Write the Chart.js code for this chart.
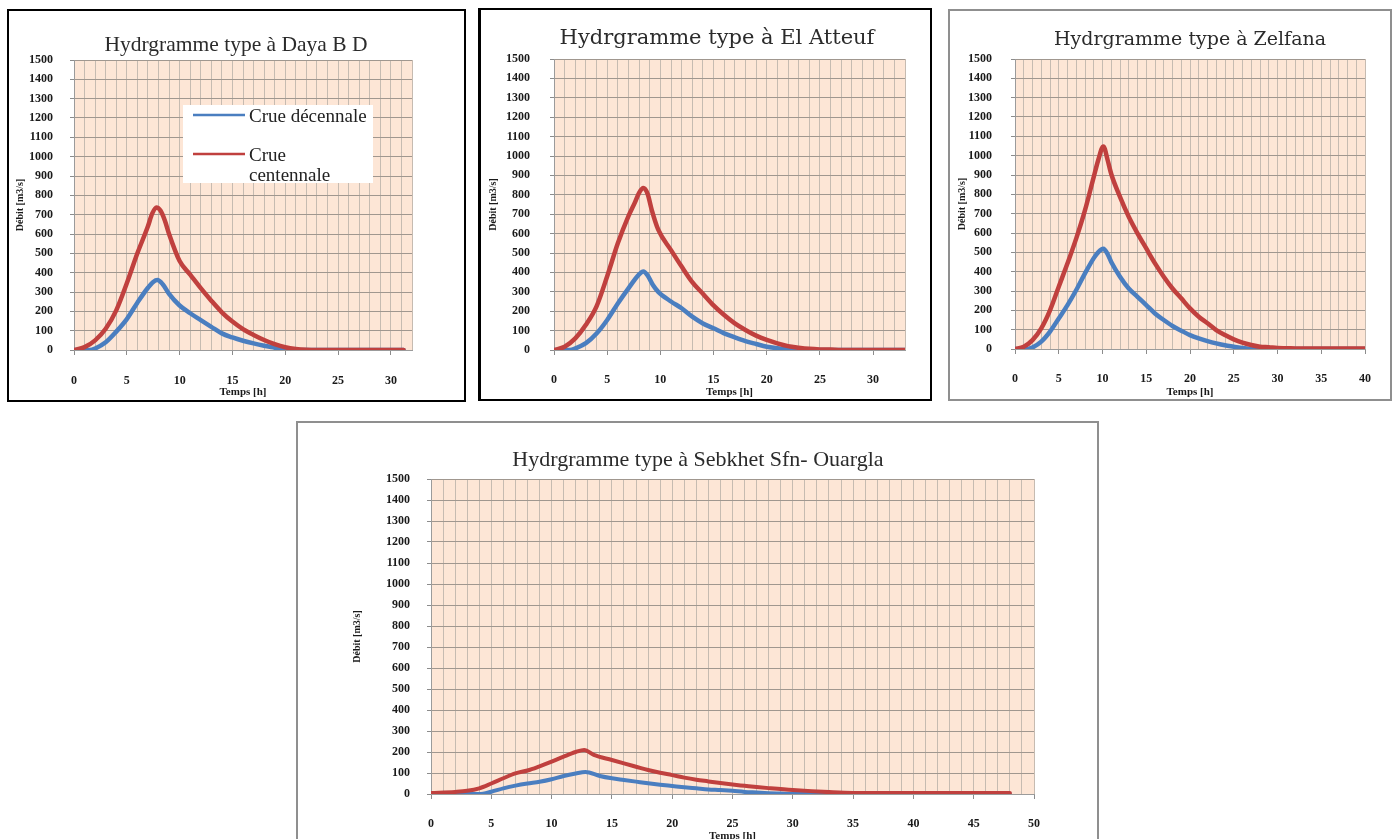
<!DOCTYPE html>
<html lang="fr">
<head>
  <meta charset="UTF-8" />
  <title>Hydrogrammes types</title>
  <script src="https://cdn.jsdelivr.net/npm/chart.js"></script>
  <style>
    body {
      margin: 0;
      width: 1397px;
      height: 839px;
      overflow: hidden;
      position: relative;
      background: #fff;
    }

    .panel {
      position: absolute;
      background: #fff;
    }

    .panel canvas {
      display: block;
    }

    #p1 { left: 7px; top: 9px; width: 455px; height: 389px; border: 2px solid #000; }
    #p2 { left: 478px; top: 8px; width: 449px; height: 389px; border: 2px solid #000; border-left-width: 3px; }
    #p3 { left: 948px; top: 9px; width: 440px; height: 388px; border: 2px solid #8f8f8f; }
    #p4 { left: 296px; top: 421px; width: 799px; height: 420px; border: 2px solid #8f8f8f; }
  </style>
</head>
<body>
  <div class="panel" id="p1"><canvas id="dayaChart" width="455" height="389"></canvas></div>
  <div class="panel" id="p2"><canvas id="atteufChart" width="449" height="389"></canvas></div>
  <div class="panel" id="p3"><canvas id="zelfanaChart" width="440" height="388"></canvas></div>
  <div class="panel" id="p4"><canvas id="sebkhetChart" width="799" height="420"></canvas></div>

  <script>
    // Temps [h] et débits [m3/s] - Daya B D
    const dayaTDec = [0, 1, 1.5, 2, 3, 4, 5, 6, 7, 7.5, 7.9, 8.4, 9, 10, 11, 12, 13, 14, 15, 16, 17, 18, 19, 20, 21, 31.2];
    const dayaQDec = [0, 0, 0, 8, 40, 95, 160, 245, 322, 352, 362, 340, 290, 230, 190, 155, 120, 86, 65, 48, 34, 22, 12, 2, 0, 0];
    const dayaTCent = [0, 1, 2, 3, 4, 5, 6, 7, 7.4, 7.8, 8.2, 8.6, 9, 10, 11, 12, 13, 14, 15, 16, 17, 18, 19, 20, 21, 22, 23, 31.2];
    const dayaQCent = [0, 15, 50, 110, 205, 345, 500, 640, 705, 737, 720, 670, 600, 460, 390, 320, 255, 195, 147, 108, 78, 52, 30, 14, 5, 1, 0, 0];

    // El Atteuf
    const atteufTDec = [0, 1, 1.5, 2, 3, 4, 5, 6, 7, 8, 8.4, 8.8, 9.3, 9.8, 11, 12, 13, 14, 15, 16, 17, 18, 19, 20, 21, 22, 23, 33];
    const atteufQDec = [0, 0, 0, 8, 35, 85, 155, 240, 318, 390, 405, 385, 335, 300, 250, 215, 172, 137, 112, 86, 65, 46, 31, 17, 9, 3, 0, 0];
    const atteufTCent = [0, 1, 2, 3, 4, 5, 6, 7, 7.6, 8, 8.4, 8.8, 9.2, 9.8, 11, 12, 13, 14, 15, 16, 17, 18, 19, 20, 21, 22, 23, 24, 25, 26, 27, 33];
    const atteufQCent = [0, 17, 60, 130, 225, 380, 550, 690, 760, 810, 835, 805, 720, 620, 515, 430, 350, 290, 230, 180, 137, 103, 74, 52, 34, 20, 12, 6, 3, 2, 0, 0];

    // Zelfana
    const zelfanaTDec = [0, 1, 1.5, 2, 3, 4, 5, 6, 7, 8, 9, 9.5, 10.1, 10.6, 11, 12, 13, 14, 15, 16, 17, 18, 19, 20, 21, 22, 23, 24, 25, 26, 27, 40];
    const zelfanaQDec = [0, 0, 0, 8, 38, 90, 158, 227, 305, 391, 470, 500, 518, 490, 450, 374, 313, 270, 227, 184, 150, 119, 95, 72, 55, 41, 29, 19, 12, 5, 0, 0];
    const zelfanaTCent = [0, 1, 2, 3, 4, 5, 6, 7, 8, 9, 9.5, 10.1, 10.6, 11, 12, 13, 14, 15, 16, 17, 18, 19, 20, 21, 22, 23, 24, 25, 26, 27, 28, 29, 30, 32, 35, 40];
    const zelfanaQCent = [0, 12, 46, 107, 200, 322, 443, 572, 718, 890, 975, 1048, 975, 905, 787, 684, 598, 520, 443, 374, 313, 262, 210, 167, 133, 98, 72, 50, 33, 21, 12, 9, 5, 3, 2, 3];

    // Sebkhet Sfn - Ouargla
    const sebkhetTDec = [0, 4, 5, 6, 7, 8, 9, 10, 11, 12, 12.8, 14, 15, 16, 17, 18, 19, 20, 21, 22, 23, 24, 25, 26, 27, 28, 29, 30, 48];
    const sebkhetQDec = [0, 0, 11, 27, 40, 50, 58, 70, 86, 98, 105, 86, 75, 67, 59, 51, 44, 38, 32, 27, 22, 19, 15, 10, 7, 4, 2, 0, 0];
    const sebkhetTCent = [0, 2, 3, 4, 5, 6, 7, 8, 9, 10, 11, 12, 12.7, 13.5, 15, 16, 17, 18, 19, 20, 21, 22, 23, 24, 25, 26, 27, 28, 30, 33, 35, 40, 48];
    const sebkhetQCent = [5, 10, 15, 27, 50, 75, 98, 112, 132, 154, 178, 200, 210, 186, 162, 146, 130, 114, 101, 90, 78, 68, 60, 52, 45, 39, 33, 28, 19, 9, 5, 5, 5];

    const seriesLabels = ['Crue décennale', 'Crue centennale'];
    const BLUE = '#4a7ec0';
    const RED = '#c0403e';
    const SERIF = '"Liberation Serif", "Times New Roman", serif';
    const WIDE_SERIF = '"DejaVu Serif", Cambria, serif';

    function toPoints(t, q) {
      return t.map((x, i) => ({ x: x, y: q[i] }));
    }

    // fond saumon de la zone de tracé
    const plotBackground = {
      id: 'plotBackground',
      beforeDraw(chart) {
        const { ctx, chartArea } = chart;
        ctx.save();
        ctx.fillStyle = '#fde6d6';
        ctx.fillRect(chartArea.left, chartArea.top, chartArea.width, chartArea.height);
        ctx.restore();
      }
    };

    // légende encadrée dans la zone de tracé (graphique Daya B D)
    const boxLegend = {
      id: 'boxLegend',
      afterDatasetsDraw(chart, args, opts) {
        if (!opts || !opts.box) return;
        const ctx = chart.ctx;
        const [bx, by, bw, bh] = opts.box;
        ctx.save();
        ctx.fillStyle = '#ffffff';
        ctx.fillRect(bx, by, bw, bh);
        ctx.font = opts.fontSize + 'px ' + SERIF;
        ctx.fillStyle = '#222';
        ctx.textBaseline = 'alphabetic';
        chart.data.datasets.forEach((ds, i) => {
          const item = opts.items[i];
          ctx.strokeStyle = ds.borderColor;
          ctx.lineWidth = 2.5;
          ctx.beginPath();
          ctx.moveTo(item.x0, item.y);
          ctx.lineTo(item.x1, item.y);
          ctx.stroke();
          item.lines.forEach((txt, k) => {
            ctx.fillText(txt, item.x1 + 4, item.base + k * opts.lineGap);
          });
        });
        ctx.restore();
      }
    };

    function createHydro(canvasId, p) {
      const canvas = document.getElementById(canvasId);
      const W = canvas.width;
      const H = canvas.height;
      const a = p.area;
      const fullTitle = p.titleFullSize !== false;
      // la boîte du titre va de padL à W - padR : on la décale pour placer le titre
      const padL = fullTitle ? Math.max(0, 2 * p.titleX - W) : 0;
      const padR = fullTitle ? Math.max(0, W - 2 * p.titleX) : 0;
      const tickFont = { family: SERIF, size: 12, weight: 'bold', lineHeight: 1 };
      const axisFont = { family: SERIF, size: 11, weight: 'bold', lineHeight: 1 };

      const series = [
        { t: p.tDec, q: p.qDec, color: BLUE, order: 1 },
        { t: p.tCent, q: p.qCent, color: RED, order: 0 }
      ];

      return new Chart(canvas, {
        type: 'scatter',
        data: {
          datasets: series.map((s, i) => ({
            label: seriesLabels[i],
            data: toPoints(s.t, s.q),
            borderColor: s.color,
            backgroundColor: s.color,
            order: s.order,
            showLine: true,
            pointRadius: 0,
            borderWidth: p.lineWidth,
            cubicInterpolationMode: 'monotone',
            borderCapStyle: 'round',
            borderJoinStyle: 'round',
            fill: false
          }))
        },
        options: {
          responsive: false,
          animation: false,
          events: [],
          layout: { padding: { left: padL, right: padR, top: 0, bottom: 0 } },
          plugins: {
            legend: { display: false },
            tooltip: { enabled: false },
            title: {
              display: true,
              fullSize: fullTitle,
              text: p.title,
              color: '#2b2b2b',
              font: { family: p.titleFont || SERIF, size: p.titleSize, weight: 'normal', lineHeight: 1 },
              padding: { top: p.titleY - p.titleSize / 2, bottom: a.t - p.titleY - p.titleSize / 2 }
            },
            boxLegend: p.legend || false
          },
          scales: {
            x: {
              type: 'linear',
              min: 0,
              max: p.xMax,
              afterFit: s => { s.height = H - a.b; },
              ticks: {
                stepSize: 1,
                autoSkip: false,
                maxRotation: 0,
                padding: p.xPad,
                color: '#1a1a1a',
                font: tickFont,
                callback: v => (v % 5 === 0 ? String(v) : '')
              },
              grid: {
                color: '#c6bbb1',
                tickLength: 5,
                tickColor: c => (c.tick && c.tick.value % 5 === 0 ? '#8c8c8c' : 'rgba(0,0,0,0)')
              },
              border: { color: '#9b9b9b' },
              title: {
                display: true,
                text: 'Temps [h]',
                color: '#1a1a1a',
                font: axisFont,
                padding: { top: 0, bottom: H - p.xTitleY - 5.5 }
              }
            },
            y: {
              min: 0,
              max: 1500,
              afterFit: s => { s.width = a.l - padL; },
              ticks: { stepSize: 100, padding: p.yPad, color: '#1a1a1a', font: tickFont, callback: v => String(v) },
              grid: { color: '#a0978f', tickLength: 4, tickColor: '#8c8c8c' },
              border: { color: '#9b9b9b' },
              title: {
                display: true,
                text: 'Débit [m3/s]',
                color: '#1a1a1a',
                font: { family: SERIF, size: 10, weight: 'bold', lineHeight: 1 },
                padding: { top: p.yTitleX - padL - 5, bottom: 0 }
              }
            },
            // axe vide à droite, sert seulement de marge
            yRight: {
              position: 'right',
              display: true,
              afterFit: s => { s.width = W - padR - a.r; },
              grid: { display: false, drawTicks: false },
              border: { display: false },
              ticks: { display: false }
            }
          }
        },
        plugins: [plotBackground, boxLegend]
      });
    }

    createHydro('dayaChart', {
      title: 'Hydrgramme type à Daya B D',
      tDec: dayaTDec, qDec: dayaQDec, tCent: dayaTCent, qCent: dayaQCent,
      xMax: 32,
      area: { l: 65, t: 49, r: 403, b: 339 },
      titleX: 227, titleY: 34, titleSize: 21.5,
      yPad: 17, xPad: 20, xTitleY: 381, yTitleX: 11,
      lineWidth: 4.5,
      legend: {
        box: [174, 94, 190, 78],
        fontSize: 19,
        lineGap: 20,
        items: [
          { x0: 184, x1: 236, y: 104, base: 111, lines: ['Crue décennale'] },
          { x0: 184, x1: 236, y: 143, base: 150, lines: ['Crue', 'centennale'] }
        ]
      }
    });

    createHydro('atteufChart', {
      title: 'Hydrgramme type à El Atteuf',
      tDec: atteufTDec, qDec: atteufQDec, tCent: atteufTCent, qCent: atteufQCent,
      xMax: 33,
      area: { l: 73, t: 49, r: 424, b: 340 },
      titleX: 236, titleY: 29, titleSize: 21, titleFont: WIDE_SERIF,
      yPad: 20, xPad: 19, xTitleY: 382, yTitleX: 12,
      lineWidth: 4.5
    });

    createHydro('zelfanaChart', {
      title: 'Hydrgramme type à Zelfana',
      tDec: zelfanaTDec, qDec: zelfanaQDec, tCent: zelfanaTCent, qCent: zelfanaQCent,
      xMax: 40,
      area: { l: 65, t: 48, r: 416, b: 338 },
      titleFullSize: false, titleY: 29, titleSize: 19, titleFont: WIDE_SERIF,
      yPad: 19, xPad: 19, xTitleY: 381, yTitleX: 12,
      lineWidth: 4.5
    });

    createHydro('sebkhetChart', {
      title: 'Hydrgramme type à Sebkhet Sfn- Ouargla',
      tDec: sebkhetTDec, qDec: sebkhetQDec, tCent: sebkhetTCent, qCent: sebkhetQCent,
      xMax: 50,
      area: { l: 133, t: 56, r: 736, b: 371 },
      titleX: 400, titleY: 37, titleSize: 22,
      yPad: 17, xPad: 19, xTitleY: 413, yTitleX: 59,
      lineWidth: 4
    });
  </script>
</body>
</html>
